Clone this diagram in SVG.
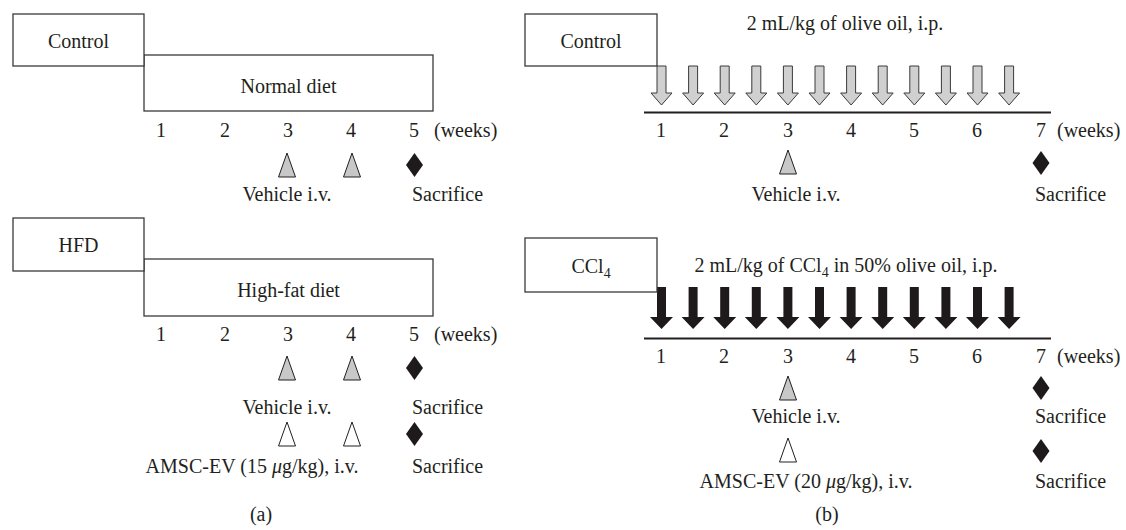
<svg xmlns="http://www.w3.org/2000/svg" width="1126" height="530" viewBox="0 0 1126 530">
<style>
text{font-family:"Liberation Serif","DejaVu Serif",serif;font-size:20px;fill:#231f20}
.m{text-anchor:middle}
.box{fill:#fff;stroke:#3a3a3a;stroke-width:1.3}
.tri{fill:#c8c8c8;stroke:#231f20;stroke-width:1}
.triw{fill:#fff;stroke:#231f20;stroke-width:1}
.dia{fill:#1e1a1b}
.axis{stroke:#231f20;stroke-width:2}
.ga{fill:#d0d0d0;stroke:#3a3a3a;stroke-width:1}
.ba{fill:#1e1a1b}
</style>
<defs>
<path id="tg" class="tri" d="M0,0 L8.5,24 L-8.5,24 Z"/>
<path id="tw" class="triw" d="M0,0 L8.5,24 L-8.5,24 Z"/>
<path id="dm" class="dia" d="M0,0 L8.5,12 L0,24 L-8.5,12 Z"/>
<path id="ag" class="ga" d="M-4.5,0 H4.5 V27 H10.5 L0,39 L-10.5,27 H-4.5 Z"/>
<path id="ab" class="ba" d="M-4.5,0 H4.5 V30 H11.5 L0,42 L-11.5,30 H-4.5 Z"/>
</defs>

<!-- Panel (a) top -->
<g id="a-normal-diet">
<rect class="box" x="144" y="55" width="289" height="56"/>
<text class="m" x="288.5" y="93">Normal diet</text>
</g>
<g id="a-control">
<rect class="box" x="13" y="14" width="131" height="52"/>
<text class="m" x="78.5" y="48">Control</text>
</g>
<g id="a-top-timeline">
<text class="m" x="161" y="137">1</text>
<text class="m" x="225" y="137">2</text>
<text class="m" x="288" y="137">3</text>
<text class="m" x="351" y="137">4</text>
<text class="m" x="414" y="137">5</text>
<text x="434" y="137">(weeks)</text>
<use href="#tg" x="287" y="153"/>
<use href="#tg" x="352" y="153"/>
<use href="#dm" x="414.5" y="153"/>
<text class="m" x="287" y="201">Vehicle i.v.</text>
<text x="412" y="201">Sacrifice</text>
</g>

<!-- Panel (a) bottom -->
<g id="a-high-fat-diet">
<rect class="box" x="144" y="259" width="289" height="57"/>
<text class="m" x="288.5" y="297">High-fat diet</text>
</g>
<g id="a-hfd">
<rect class="box" x="13" y="218" width="131" height="53"/>
<text class="m" x="78.5" y="252">HFD</text>
</g>
<g id="a-bottom-timeline">
<text class="m" x="161" y="341">1</text>
<text class="m" x="225" y="341">2</text>
<text class="m" x="288" y="341">3</text>
<text class="m" x="351" y="341">4</text>
<text class="m" x="414" y="341">5</text>
<text x="434" y="341">(weeks)</text>
<use href="#tg" x="287" y="356"/>
<use href="#tg" x="352" y="356"/>
<use href="#dm" x="414.5" y="356"/>
<text class="m" x="287" y="414">Vehicle i.v.</text>
<text x="412" y="414">Sacrifice</text>
<use href="#tw" x="287" y="422"/>
<use href="#tw" x="352" y="422"/>
<use href="#dm" x="414.5" y="422"/>
<text class="m" x="252" y="473">AMSC-EV (15 <tspan font-style="italic">μ</tspan>g/kg), i.v.</text>
<text x="412" y="473">Sacrifice</text>
</g>
<text class="m" x="261" y="521">(a)</text>

<!-- Panel (b) top -->
<g id="b-control">
<rect class="box" x="525" y="14" width="132" height="52"/>
<text class="m" x="591" y="48">Control</text>
</g>
<text class="m" x="845" y="30">2 mL/kg of olive oil, i.p.</text>
<g id="connectors">
<g id="b-top-injections">
<use href="#ag" x="661.5" y="66"/>
<use href="#ag" x="693.1" y="66"/>
<use href="#ag" x="724.7" y="66"/>
<use href="#ag" x="756.3" y="66"/>
<use href="#ag" x="787.9" y="66"/>
<use href="#ag" x="819.5" y="66"/>
<use href="#ag" x="851.1" y="66"/>
<use href="#ag" x="882.7" y="66"/>
<use href="#ag" x="914.3" y="66"/>
<use href="#ag" x="945.9" y="66"/>
<use href="#ag" x="977.5" y="66"/>
<use href="#ag" x="1009.1" y="66"/>
</g>
<line class="axis" x1="644" y1="112.5" x2="1051" y2="112.5"/>
<g id="b-bottom-injections">
<use href="#ab" x="661.5" y="287"/>
<use href="#ab" x="693.1" y="287"/>
<use href="#ab" x="724.7" y="287"/>
<use href="#ab" x="756.3" y="287"/>
<use href="#ab" x="787.9" y="287"/>
<use href="#ab" x="819.5" y="287"/>
<use href="#ab" x="851.1" y="287"/>
<use href="#ab" x="882.7" y="287"/>
<use href="#ab" x="914.3" y="287"/>
<use href="#ab" x="945.9" y="287"/>
<use href="#ab" x="977.5" y="287"/>
<use href="#ab" x="1009.1" y="287"/>
</g>
<line class="axis" x1="644" y1="338.5" x2="1051" y2="338.5"/>
</g>
<g id="b-top-timeline">
<text class="m" x="661" y="137">1</text>
<text class="m" x="724" y="137">2</text>
<text class="m" x="788" y="137">3</text>
<text class="m" x="851" y="137">4</text>
<text class="m" x="914" y="137">5</text>
<text class="m" x="977" y="137">6</text>
<text class="m" x="1041" y="137">7</text>
<text x="1057" y="137">(weeks)</text>
<use href="#tg" x="788" y="150"/>
<use href="#dm" x="1041" y="151"/>
<text class="m" x="796" y="201">Vehicle i.v.</text>
<text x="1035" y="201">Sacrifice</text>
</g>

<!-- Panel (b) bottom -->
<g id="b-ccl4">
<rect class="box" x="525" y="238" width="132" height="54"/>
<text class="m" x="591" y="273">CCl<tspan font-size="14" dy="5">4</tspan></text>
</g>
<text class="m" x="846" y="272">2 mL/kg of CCl<tspan font-size="14" dy="5">4</tspan><tspan dy="-5"> in 50% olive oil, i.p.</tspan></text>
<g id="b-bottom-timeline">
<text class="m" x="661" y="363">1</text>
<text class="m" x="724" y="363">2</text>
<text class="m" x="788" y="363">3</text>
<text class="m" x="851" y="363">4</text>
<text class="m" x="914" y="363">5</text>
<text class="m" x="977" y="363">6</text>
<text class="m" x="1041" y="363">7</text>
<text x="1057" y="363">(weeks)</text>
<use href="#tg" x="788" y="376"/>
<use href="#dm" x="1041" y="376"/>
<text class="m" x="796" y="423">Vehicle i.v.</text>
<text x="1035" y="423">Sacrifice</text>
<use href="#tw" x="788" y="438"/>
<use href="#dm" x="1041" y="439"/>
<text class="m" x="806" y="488">AMSC-EV (20 <tspan font-style="italic">μ</tspan>g/kg), i.v.</text>
<text x="1035" y="488">Sacrifice</text>
</g>
<text class="m" x="827" y="521">(b)</text>
</svg>
